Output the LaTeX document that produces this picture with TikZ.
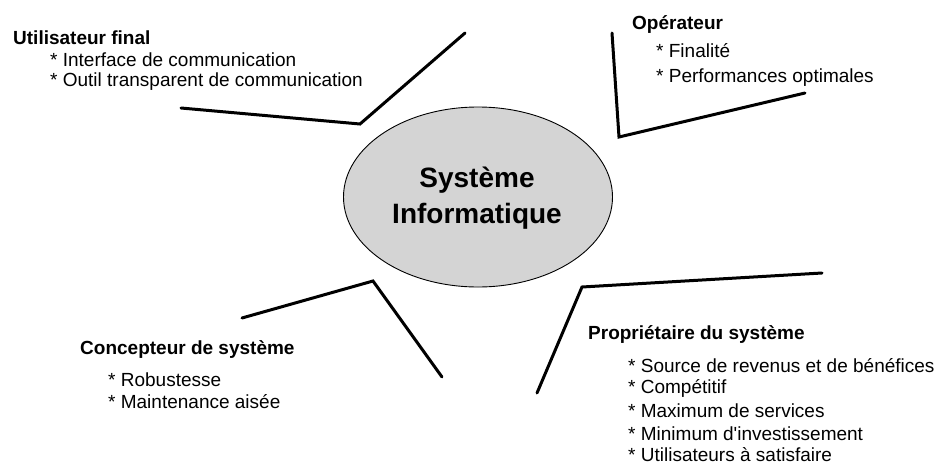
\documentclass[tikz,border=0pt]{standalone}
\usepackage{fontspec}
\setmainfont{Liberation Sans}
\usetikzlibrary{shapes.geometric}
\begin{document}
\begin{tikzpicture}[x=1pt,y=-1pt,
  lbl/.style={anchor=base west,inner sep=0pt,font=\fontsize{19}{22}\selectfont},
  head/.style={lbl,font=\fontsize{19}{22}\selectfont\bfseries},
  spoke/.style={line width=3pt,line join=miter,line cap=round,black},
  sysell/.style={ellipse,draw=black,line width=0.9pt,fill=black!17,minimum width=269pt,minimum height=180pt,inner sep=0pt}]
\useasboundingbox (0,0) rectangle (946,464);
% central ellipse
\node[sysell] (sys) at (478,197) {};
\node[anchor=base,inner sep=0pt,font=\fontsize{28}{34}\selectfont\bfseries] (t1) at (477,187) {Système};
\node[anchor=base,inner sep=0pt,font=\fontsize{28}{34}\selectfont\bfseries] (t2) at (477,223) {Informatique};
% spokes
\coordinate (a1) at (181,108); \coordinate (a2) at (360,124); \coordinate (a3) at (465,33);
\coordinate (b1) at (612,33);  \coordinate (b2) at (619,137); \coordinate (b3) at (805,93);
\coordinate (c1) at (242,318); \coordinate (c2) at (373,281); \coordinate (c3) at (442,377);
\coordinate (d1) at (822,273); \coordinate (d2) at (582,287); \coordinate (d3) at (537,393);
\draw[spoke] (a1) -- (a2) -- (a3);
\draw[spoke] (b1) -- (b2) -- (b3);
\draw[spoke] (c1) -- (c2) -- (c3);
\draw[spoke] (d1) -- (d2) -- (d3);
% Utilisateur final
\node[head] (u0) at (13,44) {Utilisateur final};
\node[lbl] (u1) at (50,66) {* Interface de communication};
\node[lbl] (u2) at (50,86) {* Outil transparent de communication};
% Operateur
\node[head] (o0) at (632,29) {Opérateur};
\node[lbl] (o1) at (656,57) {* Finalité};
\node[lbl] (o2) at (656,82) {* Performances optimales};
% Concepteur
\node[head] (c0) at (80,354) {Concepteur de système};
\node[lbl] (cc1) at (108,386) {* Robustesse};
\node[lbl] (cc2) at (108,408) {* Maintenance aisée};
% Proprietaire
\node[head] (p0) at (588,339) {Propriétaire du système};
\node[lbl] (p1) at (628,372) {* Source de revenus et de bénéfices};
\node[lbl] (p2) at (628,393) {* Compétitif};
\node[lbl] (p3) at (628,417) {* Maximum de services};
\node[lbl] (p4) at (628,440) {* Minimum d\textquotesingle investissement};
\node[lbl] (p5) at (628,461) {* Utilisateurs à satisfaire};
\end{tikzpicture}
\end{document}
